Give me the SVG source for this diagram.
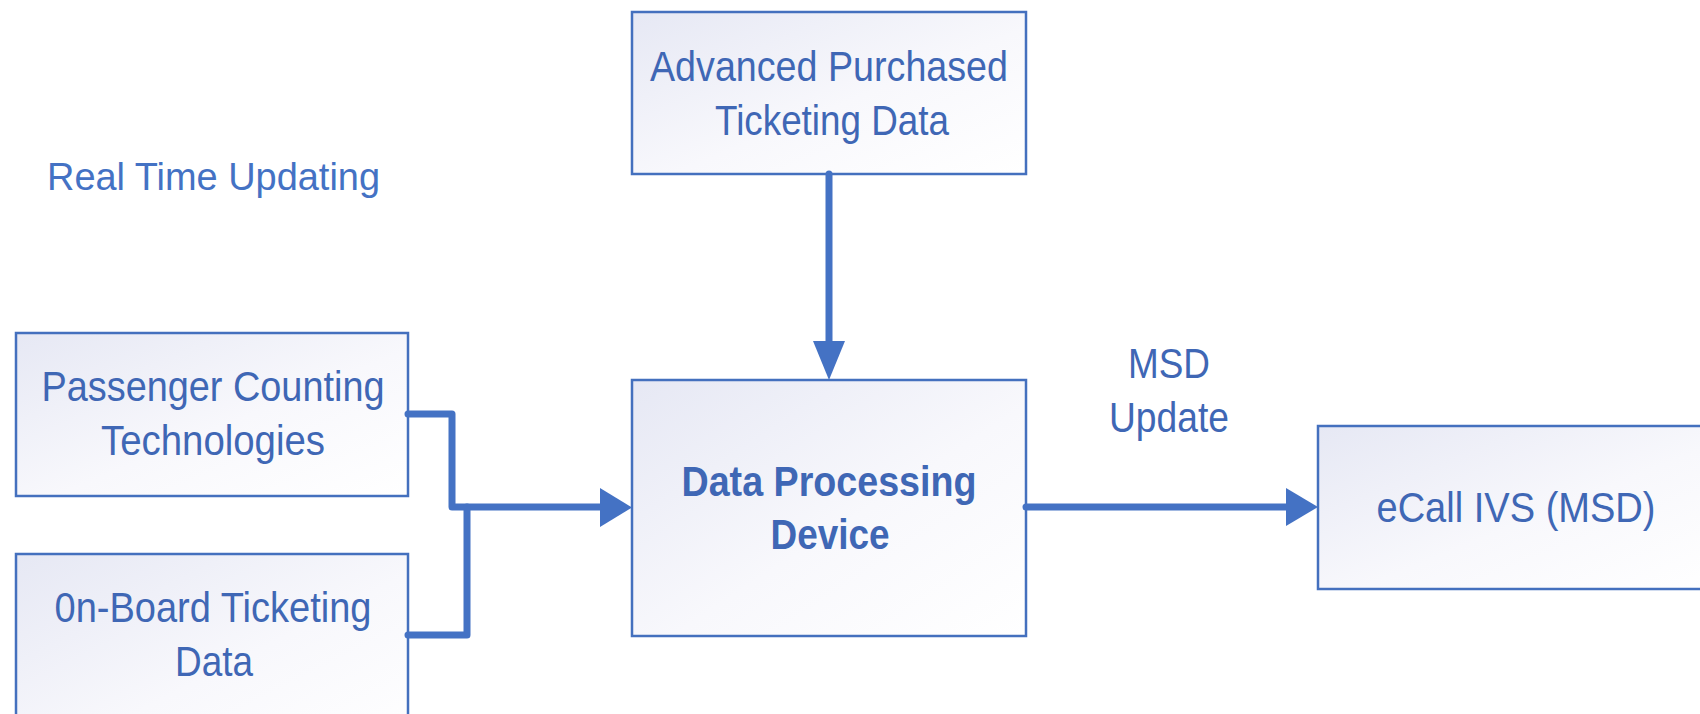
<svg xmlns="http://www.w3.org/2000/svg" width="1700" height="714" viewBox="0 0 1700 714">
  <defs>
    <linearGradient id="boxFill" x1="0" y1="0" x2="1" y2="1">
      <stop offset="0" stop-color="#E6E8F4"/>
      <stop offset="0.55" stop-color="#F8F8FC"/>
      <stop offset="1" stop-color="#FFFFFF"/>
    </linearGradient>
    <style>
      .box { fill: url(#boxFill); stroke: #4470BE; stroke-width: 2.5; }
      .lbl { font-family: "Liberation Sans", Arial, sans-serif; font-size: 42px; fill: #3F67B5; text-anchor: middle; }
      .bold { font-weight: bold; }
      .note { font-family: "Liberation Sans", Arial, sans-serif; font-size: 38px; fill: #4472C4; }
      .wire { fill: none; stroke: #4472C4; stroke-width: 7; stroke-linecap: round; stroke-linejoin: round; }
      .head { fill: #4472C4; }
    </style>
  </defs>

  <rect width="1700" height="714" fill="#FFFFFF"/>

  <!-- free-standing caption -->
  <text class="note" x="47" y="190" textLength="333" lengthAdjust="spacingAndGlyphs">Real Time Updating</text>

  <!-- nodes -->
  <g id="advanced-purchased">
    <rect class="box" x="632" y="12" width="394" height="162"/>
    <text class="lbl" x="829" y="81" textLength="358" lengthAdjust="spacingAndGlyphs">Advanced Purchased</text>
    <text class="lbl" x="832" y="135" textLength="234" lengthAdjust="spacingAndGlyphs">Ticketing Data</text>
  </g>

  <g id="passenger-counting">
    <rect class="box" x="16" y="333" width="392" height="163"/>
    <text class="lbl" x="213" y="401" textLength="343" lengthAdjust="spacingAndGlyphs">Passenger Counting</text>
    <text class="lbl" x="213" y="455" textLength="224" lengthAdjust="spacingAndGlyphs">Technologies</text>
  </g>

  <g id="onboard-ticketing">
    <rect class="box" x="16" y="554" width="392" height="200"/>
    <text class="lbl" x="213" y="622" textLength="317" lengthAdjust="spacingAndGlyphs">0n-Board Ticketing</text>
    <text class="lbl" x="214" y="676" textLength="78" lengthAdjust="spacingAndGlyphs">Data</text>
  </g>

  <g id="data-processing">
    <rect class="box" x="632" y="380" width="394" height="256"/>
    <text class="lbl bold" x="829" y="496" textLength="295" lengthAdjust="spacingAndGlyphs">Data Processing</text>
    <text class="lbl bold" x="830" y="549" textLength="119" lengthAdjust="spacingAndGlyphs">Device</text>
  </g>

  <g id="ecall-ivs">
    <rect class="box" x="1318" y="426" width="400" height="163"/>
    <text class="lbl" x="1516" y="522" textLength="279" lengthAdjust="spacingAndGlyphs">eCall IVS (MSD)</text>
  </g>

  <!-- connectors -->
  <g id="connectors">
    <path class="wire" d="M829,174 V342"/>
    <polygon class="head" points="813,341 845,341 829,380"/>

    <path class="wire" d="M408,414 H452 V507 H601"/>
    <polygon class="head" points="600,488 600,527 632,507.5"/>

    <path class="wire" d="M408,635 H467 V507"/>

    <path class="wire" d="M1026,507 H1287"/>
    <polygon class="head" points="1286,488 1286,526 1318,507"/>

    <text class="lbl" x="1169" y="378" textLength="82" lengthAdjust="spacingAndGlyphs">MSD</text>
    <text class="lbl" x="1169" y="432" textLength="120" lengthAdjust="spacingAndGlyphs">Update</text>
  </g>
</svg>
